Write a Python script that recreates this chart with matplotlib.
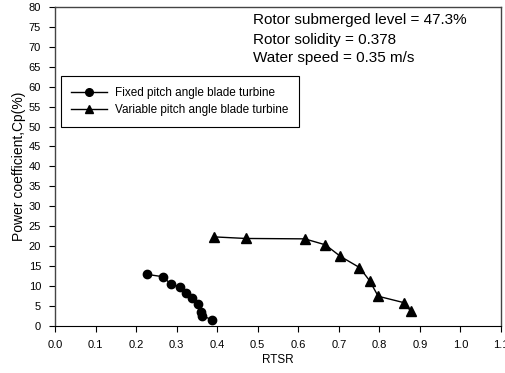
import matplotlib.pyplot as plt

plt.rcParams['font.family'] = ['Liberation Sans', 'DejaVu Sans']

# Fixed pitch angle blade turbine
fixed_tsr = [0.226, 0.266, 0.285, 0.309, 0.323, 0.338, 0.353, 0.359, 0.363, 0.387]
fixed_cp = [12.9, 12.3, 10.5, 9.7, 8.3, 7.0, 5.4, 3.5, 2.5, 1.5]

# Variable pitch angle blade turbine
var_tsr = [0.392, 0.470, 0.616, 0.667, 0.704, 0.751, 0.776, 0.797, 0.860, 0.878]
var_cp = [22.3, 21.9, 21.8, 20.3, 17.4, 14.6, 11.3, 7.4, 5.8, 3.6]

xticks = [i / 10 for i in range(12)]
yticks = list(range(0, 85, 5))

fig = plt.figure(figsize=(5.06, 3.73), dpi=100)
ax = fig.add_axes([0.1087, 0.1268, 0.8814, 0.8544])

ax.plot(fixed_tsr, fixed_cp, '-o', color='black', lw=1, ms=6,
        label='Fixed pitch angle blade turbine')
ax.plot(var_tsr, var_cp, '-^', color='black', lw=1, ms=7,
        label='Variable pitch angle blade turbine')

ax.set_xlim(0, 1.1)
ax.set_ylim(0, 80)
ax.set_xticks(xticks)
ax.set_xticklabels([f'{t:.1f}' for t in xticks])
ax.set_yticks(yticks)
ax.tick_params(labelsize=8, direction='out', length=4, width=0.8, pad=6)
ax.set_xlabel('RTSR', fontsize=8.5, labelpad=3)
ax.set_ylabel('Power coefficient,Cp(%)', fontsize=10, labelpad=2)

for side in ['left', 'right', 'top']:
    ax.spines[side].set_color('#444444')
    ax.spines[side].set_linewidth(1)
ax.spines['bottom'].set_color('black')

ax.text(0.445, 0.96, 'Rotor submerged level = 47.3%', transform=ax.transAxes,
        fontsize=11, va='center')
ax.text(0.445, 0.898, 'Rotor solidity = 0.378', transform=ax.transAxes,
        fontsize=11, va='center')
ax.text(0.445, 0.84, 'Water speed = 0.35 m/s', transform=ax.transAxes,
        fontsize=11, va='center')

leg = ax.legend(loc='upper left', bbox_to_anchor=(0.013, 0.783), borderaxespad=0,
                fontsize=8.5, fancybox=False, edgecolor='black', framealpha=1,
                handlelength=3.0, borderpad=0.9, labelspacing=0.45,
                handletextpad=0.7)
leg.get_frame().set_linewidth(0.8)
for h in leg.legend_handles:
    h.set_markersize(5.5)

fig.savefig('out.png', dpi=100)
